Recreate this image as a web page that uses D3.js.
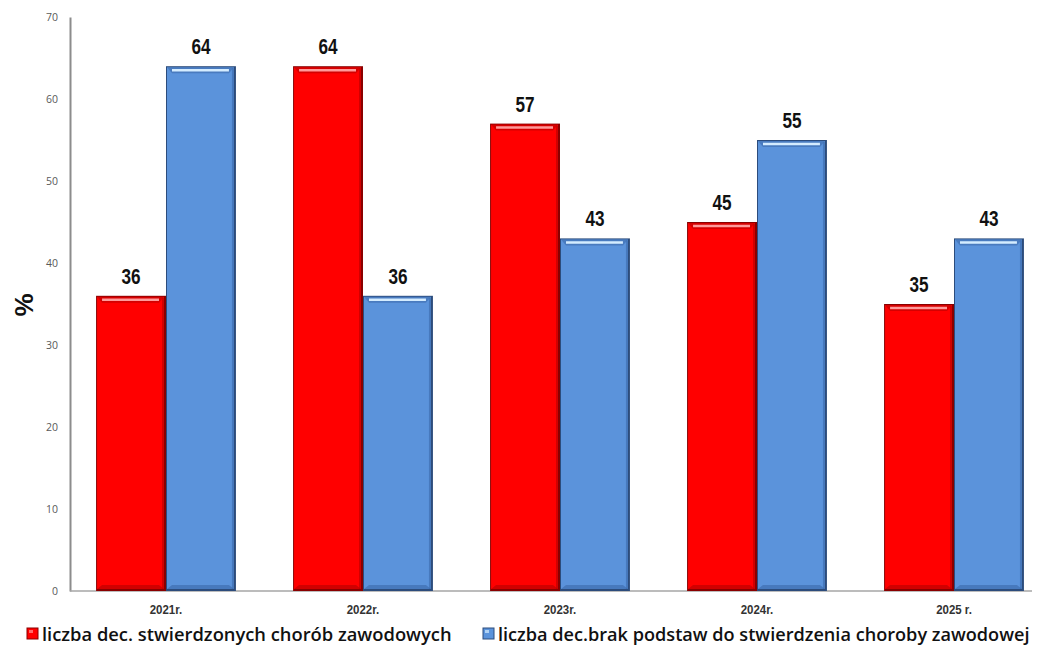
<!DOCTYPE html>
<html><head><meta charset="utf-8">
<script src="https://cdn.jsdelivr.net/npm/d3@7"></script>
<style>html,body{margin:0;padding:0;background:#fff}</style>
</head><body>
<svg id="c" width="1040" height="648"></svg>
<script>
const years = ["2021r.", "2022r.", "2023r.", "2024r.", "2025 r."];
const seriesNames = ["liczba  dec. stwierdzonych chorób zawodowych", "liczba dec.brak podstaw do stwierdzenia choroby zawodowej"];
const confirmed = [36, 64, 57, 45, 35];
const noBasis = [64, 36, 43, 55, 43];
const yTicks = [0, 10, 20, 30, 40, 50, 60, 70];

const svg = d3.select("#c");
const y = d3.scaleLinear().domain([0, 70]).range([591, 17]);
const x0 = d3.scaleBand().domain(years).range([67.5, 1052.5]).paddingInner(0.29).paddingOuter(0.145);
const x1 = d3.scaleBand().domain([0, 1]).range([0, x0.bandwidth()]).padding(0);

const styles = [
  {fill: "#ff0000", dark: "#b30000", edge: "#8a0000", light: "#ff9a9a"},
  {fill: "#5b93db", dark: "#3b68a8", edge: "#2c4c7c", light: "#d4ecff"}
];

const data = years.map((yr, i) => ({yr, vals: [confirmed[i], noBasis[i]]}));

// axis
const yAxis = d3.axisLeft(y).tickValues(yTicks).tickSize(0).tickPadding(12);
const ga = svg.append("g").attr("transform", "translate(70,0)").call(yAxis);
ga.select(".domain").attr("stroke", "#8c8c8c").attr("stroke-width", 2);
ga.selectAll("text").attr("font-family", "Open Sans, sans-serif").attr("font-size", 10.5).attr("fill", "#595959");

// baseline
svg.append("line").attr("x1", 70).attr("x2", 1032).attr("y1", y(0)).attr("y2", y(0)).attr("stroke", "#a6a6a6").attr("stroke-width", 1.5);

// bars
const g = svg.append("g");
data.forEach(d => {
  d.vals.forEach((v, s) => {
    const st = styles[s];
    const bx = x0(d.yr) + x1(s);
    const bw = x1.bandwidth();
    const by = y(v);
    const bh = y(0) - y(v);
    const bg = g.append("g");
    bg.append("rect").attr("x", bx).attr("y", by).attr("width", bw).attr("height", bh).attr("fill", st.edge);
    bg.append("rect").attr("x", bx + 1).attr("y", by + 1).attr("width", bw - 3).attr("height", bh - 3).attr("fill", st.fill);
    bg.append("polygon").attr("points", [[bx+1,by+1],[bx+bw-2,by+1],[bx+bw-7,by+7],[bx+6,by+7]].join(" ")).attr("fill", st.dark).attr("opacity", 0.55);
    bg.append("line").attr("x1", bx + 6).attr("x2", bx + bw - 7).attr("y1", by + 4).attr("y2", by + 4).attr("stroke", st.light).attr("stroke-width", 2.5);
    bg.append("polygon").attr("points", [[bx+1,by+bh-2],[bx+bw-2,by+bh-2],[bx+bw-7,by+bh-6],[bx+6,by+bh-6]].join(" ")).attr("fill", st.dark).attr("opacity", 0.6);
    bg.append("rect").attr("x", bx + bw - 4).attr("y", by + 2).attr("width", 2).attr("height", bh - 4).attr("fill", st.dark).attr("opacity", 0.6);
    // value label (condensed)
    g.append("text").attr("transform", `translate(${bx + bw / 2},${by - 12}) scale(0.78,1)`).attr("text-anchor", "middle")
      .attr("font-family", "Liberation Sans, Arial, sans-serif")
      .attr("font-weight", "bold").attr("font-size", 22).attr("fill", "#111").text(v);
  });
});

// x labels (condensed)
svg.selectAll(".xl").data(years).enter().append("text")
  .attr("transform", d => `translate(${x0(d) + x0.bandwidth() / 2},614) scale(0.85,1)`).attr("text-anchor", "middle")
  .attr("font-family", "Liberation Sans, Arial, sans-serif").attr("font-weight", "bold").attr("font-size", 13.5)
  .attr("fill", "#333").text(d => d);

// y title
svg.append("text").attr("transform", "translate(33,305) rotate(-90)").attr("text-anchor", "middle")
  .attr("font-family", "Liberation Sans, Arial, sans-serif").attr("font-weight", "bold").attr("font-size", 26)
  .attr("fill", "#111").text("%");

// legend
const legX = [27, 483];
const legW = [410, 532];
seriesNames.forEach((n, i) => {
  const st = styles[i];
  svg.append("rect").attr("x", legX[i]).attr("y", 628).attr("width", 11).attr("height", 11).attr("fill", st.fill).attr("stroke", st.edge).attr("stroke-width", 1);
  svg.append("rect").attr("x", legX[i] + 2).attr("y", 630).attr("width", 4).attr("height", 3).attr("fill", st.light).attr("opacity", 0.7);
  const t = svg.append("text").attr("x", legX[i] + 15).attr("y", 641)
    .attr("font-family", "Open Sans, sans-serif").attr("font-weight", 600).attr("font-size", 19).attr("fill", "#111").text(n);
  const w = t.node().getComputedTextLength();
  t.attr("font-size", 19 * legW[i] / w);
});
</script>
</body></html>
